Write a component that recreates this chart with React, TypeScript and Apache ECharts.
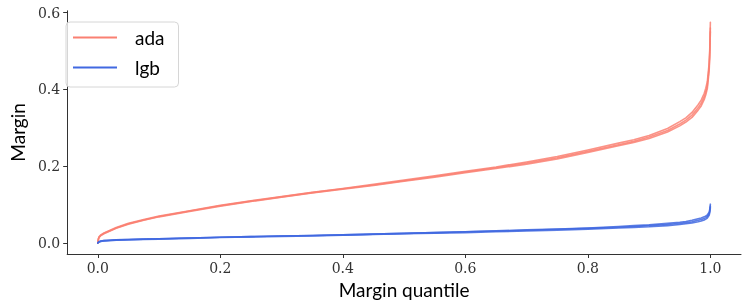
import React, { useEffect, useRef } from "react";
import * as echarts from "echarts";

const quantiles = [0, 0.001, 0.002, 0.005, 0.01, 0.02, 0.03, 0.05, 0.075, 0.1, 0.15, 0.2, 0.25, 0.3, 0.35, 0.4, 0.45, 0.5, 0.55, 0.6, 0.65, 0.7, 0.75, 0.8, 0.85, 0.875, 0.9, 0.93, 0.95, 0.96, 0.97, 0.98, 0.985, 0.99, 0.9925, 0.995, 0.998, 0.999, 1.0];

const ada1 = [0, 0.011, 0.016, 0.021, 0.026, 0.033, 0.040, 0.051, 0.061, 0.070, 0.084, 0.098, 0.110, 0.121, 0.132, 0.142, 0.153, 0.164, 0.175, 0.187, 0.198, 0.211, 0.225, 0.242, 0.260, 0.269, 0.280, 0.298, 0.316, 0.326, 0.340, 0.360, 0.372, 0.390, 0.403, 0.420, 0.468, 0.505, 0.575];
const ada2 = [0, 0.010, 0.015, 0.020, 0.025, 0.032, 0.039, 0.050, 0.060, 0.069, 0.083, 0.097, 0.109, 0.120, 0.131, 0.141, 0.151, 0.162, 0.173, 0.185, 0.196, 0.208, 0.222, 0.239, 0.256, 0.265, 0.276, 0.293, 0.310, 0.320, 0.333, 0.352, 0.364, 0.381, 0.393, 0.410, 0.458, 0.495, 0.560];
const ada3 = [0, 0.009, 0.014, 0.019, 0.024, 0.031, 0.038, 0.049, 0.059, 0.068, 0.082, 0.096, 0.108, 0.119, 0.130, 0.140, 0.150, 0.161, 0.171, 0.183, 0.194, 0.205, 0.219, 0.236, 0.253, 0.262, 0.272, 0.289, 0.305, 0.315, 0.327, 0.346, 0.357, 0.374, 0.386, 0.402, 0.448, 0.485, 0.550];

const lgb1 = [0, 0.002, 0.003, 0.005, 0.006, 0.007, 0.008, 0.009, 0.010, 0.011, 0.013, 0.015, 0.0165, 0.018, 0.0195, 0.021, 0.023, 0.025, 0.027, 0.029, 0.0315, 0.034, 0.0365, 0.039, 0.043, 0.045, 0.047, 0.051, 0.054, 0.056, 0.059, 0.063, 0.065, 0.068, 0.070, 0.073, 0.080, 0.087, 0.101];
const lgb2 = [0, 0.002, 0.003, 0.005, 0.006, 0.007, 0.008, 0.009, 0.010, 0.011, 0.013, 0.015, 0.0165, 0.018, 0.0195, 0.021, 0.023, 0.025, 0.027, 0.029, 0.031, 0.033, 0.0355, 0.038, 0.041, 0.043, 0.045, 0.048, 0.051, 0.053, 0.055, 0.059, 0.061, 0.064, 0.066, 0.069, 0.076, 0.083, 0.096];
const lgb3 = [0, 0.001, 0.002, 0.004, 0.005, 0.006, 0.007, 0.008, 0.009, 0.010, 0.012, 0.014, 0.0155, 0.017, 0.0185, 0.020, 0.022, 0.024, 0.0255, 0.027, 0.029, 0.031, 0.0335, 0.036, 0.039, 0.0405, 0.042, 0.045, 0.048, 0.050, 0.052, 0.055, 0.057, 0.060, 0.062, 0.065, 0.072, 0.079, 0.092];

const xTicks = [0, 0.2, 0.4, 0.6, 0.8, 1.0];
const yTicks = [0, 0.2, 0.4, 0.6];

const ADA_COLOR = "#FA8072";
const LGB_COLOR = "#4169E1";

export default function App() {
  const ref = useRef<HTMLDivElement>(null);
  useEffect(() => {
    if (!ref.current) return;
    const chart = echarts.init(ref.current, null, { renderer: "svg" });
    const mk = (name: string, vals: number[], color: string) => ({
      name,
      type: "line",
      data: quantiles.map((q, i) => [q, vals[i]]),
      showSymbol: false,
      symbol: "none",
      lineStyle: { color, width: 1.6, opacity: 0.85, join: "round", cap: "round" },
      itemStyle: { color },
      emphasis: { disabled: true },
    });
    const serif = "'DejaVu Serif', serif";
    const sans = "Lato, 'DejaVu Sans', sans-serif";
    chart.setOption({
      animation: false,
      grid: { left: 55, right: 6, top: 10.8, bottom: 51, containLabel: false },
      legend: {
        data: ["ada", "lgb"],
        orient: "vertical",
        left: 66,
        top: 22,
        icon: "rect",
        itemWidth: 44,
        itemHeight: 2,
        itemGap: 11,
        padding: [6, 14, 10, 7],
        borderColor: "#d6d6d6",
        borderWidth: 1,
        borderRadius: 4,
        backgroundColor: "rgba(255,255,255,0.8)",
        textStyle: { fontFamily: sans, fontSize: 19, color: "#000", padding: [0, 0, 0, 13] },
      },
      xAxis: {
        type: "value",
        min: -0.05,
        max: 1.05,
        name: "Margin quantile",
        nameLocation: "middle",
        nameGap: 24,
        nameTextStyle: { fontFamily: sans, fontSize: 19, color: "#000" },
        axisLine: { show: true, onZero: false, lineStyle: { color: "#333", width: 1 } },
        axisTick: { show: true, inside: false, length: 4, customValues: xTicks, lineStyle: { color: "#333" } },
        axisLabel: {
          customValues: xTicks,
          formatter: (v: number) => v.toFixed(1),
          fontFamily: serif,
          fontSize: 14,
          color: "#333",
          margin: 7,
        },
        splitLine: { show: false },
      },
      yAxis: {
        type: "value",
        min: -0.0288,
        max: 0.6048,
        name: "Margin",
        nameLocation: "middle",
        nameGap: 38,
        nameTextStyle: { fontFamily: sans, fontSize: 19, color: "#000" },
        axisLine: { show: true, onZero: false, lineStyle: { color: "#333", width: 1 } },
        axisTick: { show: true, inside: false, length: 4, customValues: yTicks, lineStyle: { color: "#333" } },
        axisLabel: {
          customValues: yTicks,
          formatter: (v: number) => v.toFixed(1),
          fontFamily: serif,
          fontSize: 14,
          color: "#333",
          margin: 7,
        },
        splitLine: { show: false },
      },
      series: [
        mk("ada", ada1, ADA_COLOR),
        mk("ada", ada2, ADA_COLOR),
        mk("ada", ada3, ADA_COLOR),
        mk("lgb", lgb1, LGB_COLOR),
        mk("lgb", lgb2, LGB_COLOR),
        mk("lgb", lgb3, LGB_COLOR),
      ],
    });
    return () => chart.dispose();
  }, []);
  return <div ref={ref} style={{ position: "fixed", left: 0, top: 0, width: 747, height: 305 }} />;
}
